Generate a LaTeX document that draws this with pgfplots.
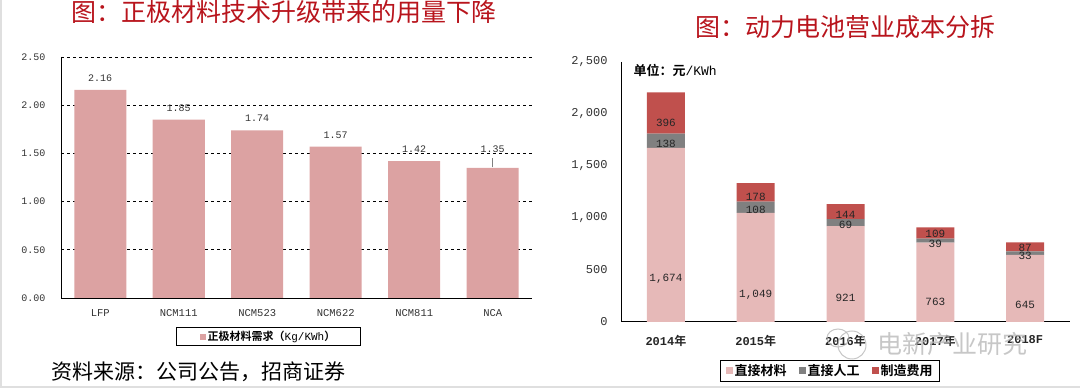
\documentclass[border=0pt]{standalone}
\usepackage{pgfplots}
\usepackage{pgfplotstable}
\pgfplotsset{compat=1.18}
\usepackage{fontspec}
\setmainfont{Liberation Serif}
\newfontfamily\cjk{Noto Sans CJK SC}[BoldFont={Noto Sans CJK SC Bold}]
\newfontfamily\mono{Liberation Mono}
\definecolor{titlered}{HTML}{B8141C}
\definecolor{barpink}{HTML}{DCA2A2}
\definecolor{matpink}{HTML}{E6B9B8}
\definecolor{laborgray}{HTML}{808080}
\definecolor{mfgred}{HTML}{C0504D}
\pgfplotstableread{
x y
0 2.16
1 1.85
2 1.74
3 1.57
4 1.42
5 1.35
}\cathode
\pgfplotstableread{
x mat lab mfg
0 1674 138 396
1 1049 108 178
2 921 69 144
3 763 39 109
4 645 33 87
}\cost
\begin{document}
\begin{tikzpicture}
\useasboundingbox (0pt,0pt) rectangle (1080pt,388pt);
\draw[gray!25, line width=2pt] (1pt,0pt) -- (1pt,388pt);
\draw[gray!25, line width=2pt] (0pt,1pt) -- (1080pt,1pt);
% titles
\node[text=titlered] at (284pt,376pt) {\cjk\fontsize{25}{25}\selectfont 图：正极材料技术升级带来的用量下降};
\node[text=titlered] at (845pt,361pt) {\cjk\fontsize{25}{25}\selectfont 图：动力电池营业成本分拆};
\node[anchor=west] at (48pt,16pt) {\cjk\fontsize{21}{21}\selectfont 资料来源：公司公告，招商证券};
% left chart
\begin{axis}[
  at={(61pt,90pt)}, anchor=south west,
  scale only axis, width=471pt, height=241pt,
  xmin=-0.5, xmax=5.5, ymin=0, ymax=2.5,
  clip=false,
  axis x line*=bottom, axis y line*=left,
  axis line style={black, line width=0.9pt, -},
  ytick={0,0.5,1,1.5,2,2.5},
  ymajorgrids, grid style={black, dashed, line width=0.7pt},
  major tick length=0pt,
  xtick=data, xticklabels={LFP,NCM111,NCM523,NCM622,NCM811,NCA},
  yticklabel={\pgfmathprintnumber[fixed,fixed zerofill,precision=2,assume math mode=true]{\tick}},
  yticklabel style={xshift=-12pt, font=\mono\fontsize{10}{10}\selectfont, text=black!80},
  xticklabel style={yshift=-8pt, font=\mono\fontsize{10.5}{10.5}\selectfont, text=black!80},
  ybar, bar width=52pt,
  nodes near coords={\pgfmathprintnumber[fixed,fixed zerofill,precision=2,assume math mode=true]{\pgfplotspointmeta}},
  nodes near coords style={font=\mono\fontsize{10}{10}\selectfont, text=black!80, yshift=5pt},
  coordinate style/.condition={x==5}{yshift=7pt},
  legend style={at={(0.4406,-0.16)}, anchor=center, draw=black, line width=0.8pt,
    inner xsep=23pt, inner ysep=1.5pt, font=\fontsize{11}{12}\selectfont},
]
\addplot[fill=barpink, draw=none,
  legend image code/.code={\fill[barpink] (0pt,-3pt) rectangle (6pt,3pt);}] table[x=x,y=y]{\cathode};
\addlegendentry{{\cjk\bfseries 正极材料需求（}{\mono Kg/KWh}{\cjk\bfseries ）}}
\draw[gray, line width=0.5pt] (axis cs:5,1.355) -- (axis cs:5,1.45);
\draw[black, line width=0.9pt] (rel axis cs:0,1) -- (rel axis cs:0,0) -- (rel axis cs:1,0);
\end{axis}
% right chart
\node[anchor=west] at (630pt,318pt) {\cjk\bfseries\fontsize{13}{13}\selectfont 单位：元{\mono\mdseries /KWh}};
\begin{axis}[
  at={(621pt,66pt)}, anchor=south west,
  scale only axis, width=449pt, height=260pt,
  xmin=-0.5, xmax=4.5, ymin=0, ymax=2500,
  clip=false,
  axis x line*=bottom, axis y line*=left,
  axis line style={black, line width=1pt, -},
  ytick={0,500,1000,1500,2000,2500},
  major tick length=0pt,
  xtick=data, xticklabels={{\mono\bfseries 2014}{\cjk\bfseries 年},{\mono\bfseries 2015}{\cjk\bfseries 年},{\mono\bfseries 2016}{\cjk\bfseries 年},{\mono\bfseries 2017}{\cjk\bfseries 年},{\mono\bfseries 2018F}},
  yticklabel={\pgfmathprintnumber[1000 sep={,},assume math mode=true]{\tick}},
  yticklabel style={xshift=-10pt, font=\mono\fontsize{12}{12}\selectfont, text=black!80},
  xticklabel style={yshift=-10pt, font=\fontsize{12}{12}\selectfont, text=black!85},
  ybar stacked, bar width=38pt,
  nodes near coords={\pgfmathprintnumber[1000 sep={,},assume math mode=true]{\segv}},
  every node near coord/.append style={anchor=center, yshift={-\segh},
    font=\mono\fontsize{11}{11}\selectfont, text=black!85},
  legend columns=3,
  legend style={at={(0.4655,-0.188)}, anchor=center, draw=black, line width=0.8pt,
    inner xsep=5pt, inner ysep=2pt, font=\cjk\bfseries\fontsize{13}{14}\selectfont,
    /tikz/every even column/.append style={column sep=10pt}},
]
\addplot[fill=matpink, draw=none,
  visualization depends on={\thisrow{mat} \as \segv},
  visualization depends on={0.026*\thisrow{mat} \as \segh},
  legend image code/.code={\fill[matpink] (0pt,-3.5pt) rectangle (7pt,3.5pt);}] table[x=x,y=mat]{\cost};
\addlegendentry{直接材料}
\addplot[fill=laborgray, draw=none,
  visualization depends on={\thisrow{lab} \as \segv},
  visualization depends on={0.026*\thisrow{lab}+2*(\thisrow{x}>2.5) \as \segh},
  legend image code/.code={\fill[laborgray] (0pt,-3.5pt) rectangle (7pt,3.5pt);}] table[x=x,y=lab]{\cost};
\addlegendentry{直接人工}
\addplot[fill=mfgred, draw=none,
  visualization depends on={\thisrow{mfg} \as \segv},
  visualization depends on={0.026*\thisrow{mfg}-1.5*(\thisrow{x}>2.5) \as \segh},
  legend image code/.code={\fill[mfgred] (0pt,-3.5pt) rectangle (7pt,3.5pt);}] table[x=x,y=mfg]{\cost};
\addlegendentry{制造费用}
\draw[black, line width=1pt] (rel axis cs:0,1) -- (rel axis cs:0,0) -- (rel axis cs:1,0);
\end{axis}
% watermark
\begin{scope}[gray!55, opacity=0.8]
\draw[line width=1pt] (852pt,43pt) circle (14pt);
\draw[line width=1pt] (838pt,50pt) ellipse (11pt and 9pt);
\node[anchor=west] at (874pt,44pt) {\cjk\fontsize{25}{25}\selectfont 电新产业研究};
\end{scope}
\end{tikzpicture}
\end{document}
